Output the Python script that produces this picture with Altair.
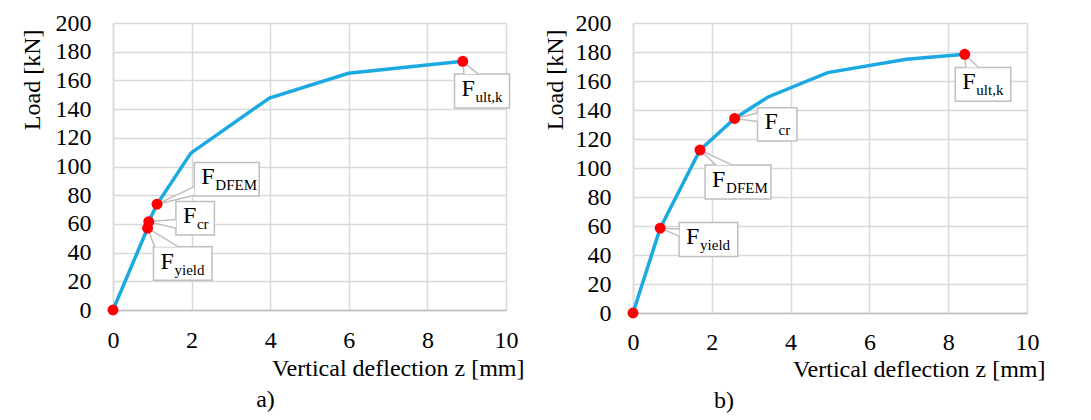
import altair as alt
import pandas as pd

FONT = "Liberation Serif"
LINE_COLOR = "#1ba9e1"
GRID = "#d9d9d9"
BOX = "#bfbfbf"

# ---------------- Panel a) data ----------------
a_curve_x = [0, 0.88, 0.91, 1.12, 1.98, 3.98, 5.99, 8.9]
a_curve_y = [0, 57, 61.6, 73.7, 109.3, 147.7, 165, 173.3]
a_pt_x = [0, 0.88, 0.91, 1.12, 8.9]
a_pt_y = [0, 57, 61.6, 73.7, 173.3]
a_lab_sub = ["yield", "cr", "DFEM", "ult,k"]
a_lab_px = [0.88, 0.91, 1.12, 8.9]
a_lab_py = [57, 61.6, 73.7, 173.3]
# annotation boxes (data units)
a_box_x1 = [1.03, 1.60, 2.07, 8.69]
a_box_x2 = [2.52, 2.58, 3.72, 10.09]
a_box_y1 = [20.7, 52.3, 79.5, 140.7]
a_box_y2 = [44.0, 75.6, 102.8, 164.4]
# callout wedge base points ("h": base on top edge, "v": base on left edge)
a_w_side = ["h", "v", "v", "h"]
a_w1x = [1.06, 1.60, 2.07, 8.93]
a_w1y = [44.0, 63.0, 86.0, 164.4]
a_w2x = [1.67, 1.60, 2.07, 9.29]
a_w2y = [44.0, 57.0, 80.0, 164.4]

# ---------------- Panel b) data ----------------
b_curve_x = [0, 0.69, 1.70, 2.58, 3.43, 4.94, 6.94, 8.42]
b_curve_y = [0, 58.5, 112.4, 134.2, 149, 165.8, 175, 178.4]
b_pt_x = [0, 0.69, 1.70, 2.58, 8.42]
b_pt_y = [0, 58.5, 112.4, 134.2, 178.4]
b_lab_sub = ["yield", "DFEM", "cr", "ult,k"]
b_lab_px = [0.69, 1.70, 2.58, 8.42]
b_lab_py = [58.5, 112.4, 134.2, 178.4]
b_box_x1 = [1.17, 1.83, 3.16, 8.18]
b_box_x2 = [2.66, 3.50, 4.16, 9.59]
b_box_y1 = [39.0, 78.7, 118.6, 146.1]
b_box_y2 = [62.4, 102.0, 141.5, 169.3]
b_w_side = ["v", "h", "v", "h"]
b_w1x = [1.17, 2.11, 3.16, 8.45]
b_w1y = [58.0, 102.0, 138.0, 169.3]
b_w2x = [1.17, 2.52, 3.16, 8.77]
b_w2y = [53.0, 102.0, 132.0, 169.3]

x_ticks = [0, 2, 4, 6, 8, 10]
y_ticks = [0, 20, 40, 60, 80, 100, 120, 140, 160, 180, 200]

FS = 24


def panel(cx, cy, px, py, sub, lpx, lpy, bx1, bx2, by1, by2, side, w1x, w1y, w2x, w2y,
          w, h, letter, xlab_pad, xtitle_y, ytitle_x, title_dx):
    curve = pd.DataFrame({"x": cx, "y": cy})
    pts = pd.DataFrame({"x": px, "y": py})
    ann = pd.DataFrame({"sub": sub, "px": lpx, "py": lpy,
                        "bx1": bx1, "bx2": bx2, "by1": by1, "by2": by2,
                        "w1x": w1x, "w1y": w1y, "w2x": w2x, "w2y": w2y})
    ann["bym"] = (ann["by1"] + ann["by2"]) / 2
    ann["F"] = "F"

    # wedge fill polygons (triangles drawn as two-row areas)
    vrows, hrows = [], []
    for i in range(len(sub)):
        if side[i] == "v":
            vrows.append({"id": i, "x": lpx[i], "y": lpy[i], "y2": lpy[i]})
            vrows.append({"id": i, "x": w1x[i], "y": w1y[i], "y2": w2y[i]})
        else:
            hrows.append({"id": i, "y": lpy[i], "x": lpx[i], "x2": lpx[i]})
            hrows.append({"id": i, "y": w1y[i], "x": w1x[i], "x2": w2x[i]})
    vdf = pd.DataFrame(vrows)
    hdf = pd.DataFrame(hrows)

    xscale = alt.Scale(domain=[0, 10], nice=False)
    yscale = alt.Scale(domain=[0, 200], nice=False)
    common = dict(grid=True, gridColor=GRID, gridWidth=1.5, domainWidth=1.5,
                  ticks=False, tickSize=0, labelOverlap=False, labelFlush=False,
                  labelFont=FONT, labelFontSize=FS, labelColor="black",
                  titleFont=FONT, titleFontSize=FS, titleFontWeight="normal",
                  titleColor="black")
    xaxis = alt.Axis(values=x_ticks, title="Vertical deflection z [mm]",
                     domainColor=BOX, labelPadding=xlab_pad,
                     titleX=w + 18, titleY=xtitle_y,
                     titleAlign="right", titleBaseline="top", **common)
    yaxis = alt.Axis(values=y_ticks, title="Load [kN]",
                     domainColor=GRID, labelPadding=22,
                     titleX=ytitle_x, titleY=6, titleAngle=-90,
                     titleAlign="right", titleBaseline="middle", **common)

    X = lambda f: alt.X(f, scale=xscale, axis=xaxis)
    Y = lambda f: alt.Y(f, scale=yscale, axis=yaxis)

    base_line = alt.Chart(curve).mark_line(color=LINE_COLOR, strokeWidth=3.5).encode(
        x=X("x:Q"), y=Y("y:Q"))
    points = alt.Chart(pts).mark_circle(color="#ff0000", size=120, opacity=1).encode(
        x=X("x:Q"), y=Y("y:Q"))
    boxes = alt.Chart(ann).mark_rect(fill="white", stroke=BOX, strokeWidth=1.5,
                                     clip=False).encode(
        x=X("bx1:Q"), x2="bx2:Q", y=Y("by1:Q"), y2="by2:Q")
    layers = [base_line, boxes]
    if len(vdf):
        layers.append(alt.Chart(vdf).mark_area(orient="vertical", color="white",
                                               opacity=1).encode(
            x=X("x:Q"), y=Y("y:Q"), y2="y2:Q", detail="id:N"))
    if len(hdf):
        layers.append(alt.Chart(hdf).mark_area(orient="horizontal", color="white",
                                               opacity=1).encode(
            y=Y("y:Q"), x=X("x:Q"), x2="x2:Q", detail="id:N"))
    w1 = alt.Chart(ann).mark_rule(color=BOX, strokeWidth=1.5).encode(
        x=X("px:Q"), y=Y("py:Q"), x2="w1x:Q", y2="w1y:Q")
    w2 = alt.Chart(ann).mark_rule(color=BOX, strokeWidth=1.5).encode(
        x=X("px:Q"), y=Y("py:Q"), x2="w2x:Q", y2="w2y:Q")
    ftxt = alt.Chart(ann).mark_text(font=FONT, fontSize=FS, color="black",
                                    align="left", baseline="middle", dx=7, dy=-2).encode(
        x=X("bx1:Q"), y=Y("bym:Q"), text="F:N")
    stxt = alt.Chart(ann).mark_text(font=FONT, fontSize=15, color="black",
                                    align="left", baseline="middle", dx=21, dy=6).encode(
        x=X("bx1:Q"), y=Y("bym:Q"), text="sub:N")
    layers += [w1, w2, points, ftxt, stxt]

    return alt.layer(*layers).properties(
        width=w, height=h,
        title=alt.TitleParams(letter, orient="bottom", anchor="middle", dx=title_dx,
                              font=FONT, fontSize=FS, fontWeight="normal",
                              color="black", offset=8),
    )


pa = panel(a_curve_x, a_curve_y, a_pt_x, a_pt_y, a_lab_sub, a_lab_px, a_lab_py,
           a_box_x1, a_box_x2, a_box_y1, a_box_y2, a_w_side, a_w1x, a_w1y, a_w2x, a_w2y,
           393, 287, "a)", 18, 46, -81, -44)
pb = panel(b_curve_x, b_curve_y, b_pt_x, b_pt_y, b_lab_sub, b_lab_px, b_lab_py,
           b_box_x1, b_box_x2, b_box_y1, b_box_y2, b_w_side, b_w1x, b_w1y, b_w2x, b_w2y,
           394, 290, "b)", 17, 44, -78, -106)

chart = alt.hconcat(pa, pb, spacing=18).properties(
    padding={"left": 11, "top": 3, "right": 5, "bottom": 5}
).configure(font=FONT, background="white").configure_view(stroke=None).configure_axis(
    labelFont=FONT, titleFont=FONT, labelFontSize=FS, titleFontSize=FS,
    labelColor="black", titleColor="black", titleFontWeight="normal",
)

chart.save("out.html", embed_options={"renderer": "svg", "actions": False})
